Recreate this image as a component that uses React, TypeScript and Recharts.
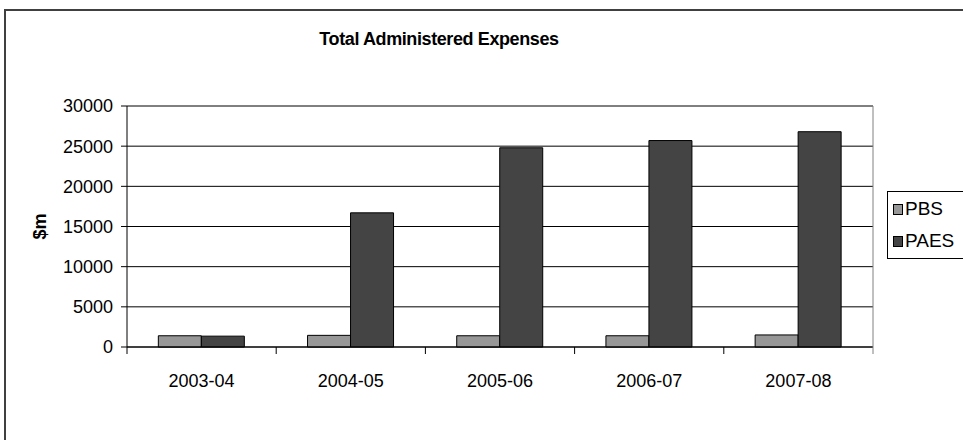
import { BarChart, Bar, XAxis, YAxis, CartesianGrid, Label } from "recharts";

const categories = ["2003-04", "2004-05", "2005-06", "2006-07", "2007-08"];
const pbsValues = [1400, 1450, 1400, 1400, 1500];
const paesValues = [1350, 16700, 24800, 25700, 26800];
const yTicks = [0, 5000, 10000, 15000, 20000, 25000, 30000];

const seriesNames = ["PBS", "PAES"];
const seriesColors = ["#979797", "#444444"];

const data = categories.map((year, i) => ({
  year,
  PBS: pbsValues[i],
  PAES: paesValues[i],
}));

const FONT = "Arial, 'Liberation Sans', sans-serif";

// category tick: label in the middle, tick marks on the category boundaries
const XTick = (props: any) => {
  const { x, y, payload, index, visibleTicksCount } = props;
  const half = payload && payload.offset ? payload.offset : 74.6;
  const last = index === visibleTicksCount - 1;
  return (
    <g>
      <line x1={x - half} x2={x - half} y1={y} y2={y + 7} stroke="#000" />
      {last && <line x1={x + half} x2={x + half} y1={y} y2={y + 7} stroke="#808080" />}
      <text x={x} y={y + 40} textAnchor="middle" fontSize={18} fill="#000" fontFamily={FONT}>
        {payload.value}
      </text>
    </g>
  );
};

const renderYLabel = ({ viewBox }: any) => {
  if (!viewBox) return null;
  const cx = viewBox.x + 13;
  const cy = viewBox.y + viewBox.height / 2;
  return (
    <text
      x={cx}
      y={cy}
      transform={`rotate(-90, ${cx}, ${cy})`}
      textAnchor="middle"
      dominantBaseline="central"
      fontSize={18}
      fontWeight="bold"
      fill="#000"
      fontFamily={FONT}
    >
      $m
    </text>
  );
};

export default function App() {
  return (
    <div
      style={{
        position: "absolute",
        left: 0,
        top: 0,
        width: 963,
        height: 440,
        background: "#fff",
        overflow: "hidden",
        fontFamily: FONT,
      }}
    >
      {/* outer chart frame, runs off the right and bottom edges */}
      <div
        style={{
          position: "absolute",
          left: 4,
          top: 9,
          width: 1000,
          height: 500,
          border: "2px solid #404040",
        }}
      />
      <div
        style={{
          position: "absolute",
          left: 0,
          top: 29,
          width: 878,
          textAlign: "center",
          fontSize: 18,
          fontWeight: "bold",
          letterSpacing: -0.4,
        }}
      >
        Total Administered Expenses
      </div>

      <div style={{ position: "absolute", left: 0, top: 0 }}>
        <BarChart
          width={963}
          height={440}
          data={data}
          margin={{ top: 106, right: 89, bottom: 0, left: 27 }}
          barCategoryGap="21%"
          barGap={0}
        >
          <CartesianGrid vertical={false} stroke="#000" />
          <XAxis
            dataKey="year"
            stroke="#000"
            tickLine={false}
            tickSize={0}
            tickMargin={0}
            height={93}
            interval={0}
            tick={<XTick />}
          />
          <XAxis
            xAxisId="top"
            dataKey="year"
            orientation="top"
            height={0}
            tick={false}
            tickLine={false}
            stroke="#808080"
          />
          <YAxis
            width={100}
            domain={[0, 30000]}
            ticks={yTicks}
            interval={0}
            stroke="#000"
            tickSize={6}
            tickMargin={8}
            tick={{ fontSize: 18, fill: "#000", fontFamily: FONT }}
          >
            <Label content={renderYLabel} />
          </YAxis>
          <YAxis
            yAxisId="right"
            orientation="right"
            width={1}
            domain={[0, 30000]}
            tick={false}
            tickLine={false}
            stroke="#808080"
          />
          {seriesNames.map((name, i) => (
            <Bar
              key={name}
              dataKey={name}
              fill={seriesColors[i]}
              stroke="#000"
              strokeWidth={1}
              isAnimationActive={false}
            />
          ))}
        </BarChart>
      </div>

      {/* legend */}
      <div
        style={{
          position: "absolute",
          left: 887,
          top: 191,
          width: 120,
          height: 66,
          border: "1px solid #000",
          background: "#fff",
        }}
      >
        {seriesNames.map((name, i) => (
          <div
            key={name}
            style={{
              position: "absolute",
              left: 5,
              top: 4 + i * 32,
              display: "flex",
              alignItems: "center",
              height: 26,
            }}
          >
            <div
              style={{
                width: 8,
                height: 9,
                background: seriesColors[i],
                border: "1px solid #000",
                marginRight: 2,
              }}
            />
            <span style={{ fontSize: 19, color: "#000" }}>{name}</span>
          </div>
        ))}
      </div>
    </div>
  );
}
